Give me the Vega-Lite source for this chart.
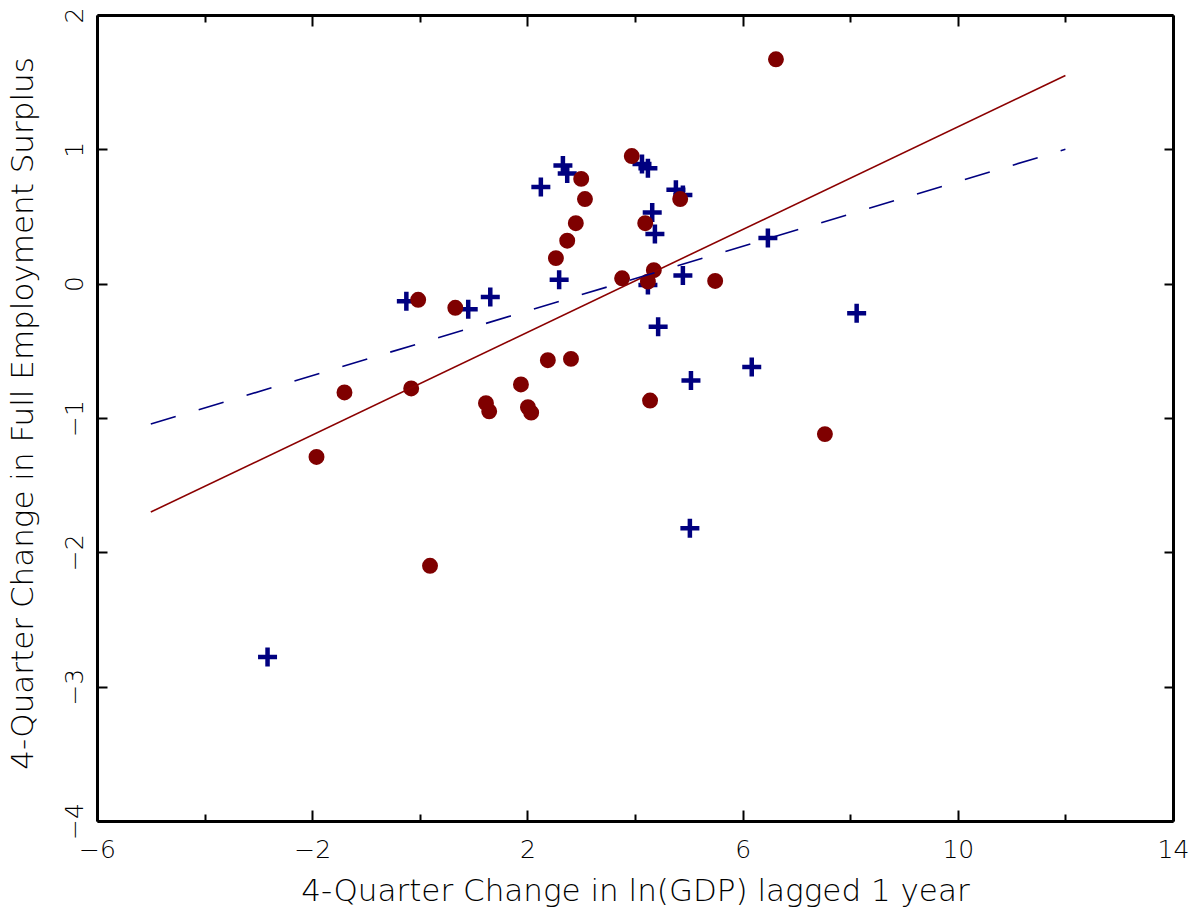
{
  "$schema": "https://vega.github.io/schema/vega-lite/v6.json",
  "width": 1076,
  "height": 806,
  "autosize": "none",
  "padding": {"left": 97, "top": 15, "right": 19, "bottom": 98},
  "background": "white",
  "config": {
    "view": {"stroke": null},
    "axis": {
      "grid": false,
      "domainColor": "black",
      "domainWidth": 3,
      "tickColor": "black",
      "tickWidth": 2,
      "labelFont": "DejaVu Sans",
      "labelFontSize": 25,
      "labelFontWeight": 200,
      "labelColor": "black",
      "titleFont": "DejaVu Sans",
      "titleFontSize": 31,
      "titleFontWeight": 200,
      "titleColor": "black",
      "labelFlush": false,
      "labelOverlap": false
    }
  },
  "datasets": {
    "circles": [
      {"x": 6.62, "y": 1.67}, {"x": 3.94, "y": 0.95}, {"x": 3.0, "y": 0.78}, {"x": 3.07, "y": 0.63},
      {"x": 4.84, "y": 0.63}, {"x": 2.9, "y": 0.45}, {"x": 4.19, "y": 0.45}, {"x": 2.74, "y": 0.32},
      {"x": 2.53, "y": 0.19}, {"x": 4.35, "y": 0.1}, {"x": 3.76, "y": 0.04}, {"x": 4.24, "y": 0.015},
      {"x": 5.49, "y": 0.02}, {"x": -0.03, "y": -0.12}, {"x": 0.66, "y": -0.18}, {"x": -1.4, "y": -0.81},
      {"x": -0.16, "y": -0.78}, {"x": 2.38, "y": -0.57}, {"x": 2.81, "y": -0.56}, {"x": 1.88, "y": -0.75},
      {"x": 1.23, "y": -0.89}, {"x": 1.29, "y": -0.95}, {"x": 2.01, "y": -0.92}, {"x": 2.07, "y": -0.96},
      {"x": 4.28, "y": -0.87}, {"x": 7.53, "y": -1.12}, {"x": -1.92, "y": -1.29}, {"x": 0.19, "y": -2.1}
    ],
    "pluses": [
      {"x": 2.66, "y": 0.88}, {"x": 2.74, "y": 0.82}, {"x": 2.25, "y": 0.72}, {"x": 4.13, "y": 0.89},
      {"x": 4.24, "y": 0.86}, {"x": 4.76, "y": 0.7}, {"x": 4.89, "y": 0.66}, {"x": 4.32, "y": 0.53},
      {"x": 4.37, "y": 0.37}, {"x": 6.47, "y": 0.34}, {"x": 2.59, "y": 0.03}, {"x": 4.89, "y": 0.06},
      {"x": 4.24, "y": -0.01}, {"x": 1.31, "y": -0.1}, {"x": -0.25, "y": -0.13}, {"x": 0.9, "y": -0.19},
      {"x": 4.43, "y": -0.32}, {"x": 8.12, "y": -0.22}, {"x": 6.17, "y": -0.62}, {"x": 5.04, "y": -0.72},
      {"x": 5.02, "y": -1.82}, {"x": -2.83, "y": -2.78}
    ],
    "solid": [{"x": -5, "y": -1.7}, {"x": 12, "y": 1.55}],
    "dashed": [{"x": -5, "y": -1.045}, {"x": 12, "y": 1.0}]
  },
  "layer": [
    {
      "data": {"name": "pluses"},
      "mark": {"type": "point", "shape": "M -1 0 L 1 0 M 0 -1 L 0 1", "filled": false, "stroke": "#000080", "strokeWidth": 4.5, "size": 361, "opacity": 1, "strokeCap": "butt"},
      "encoding": {
        "x": {"field": "x", "type": "quantitative", "scale": {"domain": [-6, 14], "nice": false, "zero": false},
          "axis": {"orient": "top", "labels": false, "title": null, "values": [-6, -4, -2, 0, 2, 4, 6, 8, 10, 12, 14],
            "tickSize": {"condition": {"test": "(datum.value + 6) % 4 == 0", "value": -11}, "value": -7}}},
        "y": {"field": "y", "type": "quantitative", "scale": {"domain": [-4, 2], "nice": false, "zero": false},
          "axis": {"orient": "right", "labels": false, "title": null, "values": [-4, -3, -2, -1, 0, 1, 2], "tickSize": -9}}
      }
    },
    {
      "data": {"name": "circles"},
      "mark": {"type": "point", "shape": "circle", "filled": true, "color": "#7f0000", "size": 254, "opacity": 1},
      "encoding": {
        "x": {"field": "x", "type": "quantitative",
          "axis": {"orient": "bottom", "values": [-6, -4, -2, 0, 2, 4, 6, 8, 10, 12, 14],
            "labelExpr": "(datum.value + 6) % 4 == 0 ? datum.label : ''",
            "tickSize": {"condition": {"test": "(datum.value + 6) % 4 == 0", "value": -11}, "value": -7},
            "labelPadding": 47, "labelBaseline": "alphabetic",
            "title": "4-Quarter Change in ln(GDP) lagged 1 year", "titleY": 79, "titleBaseline": "alphabetic"}},
        "y": {"field": "y", "type": "quantitative",
          "axis": {"orient": "left", "values": [-4, -3, -2, -1, 0, 1, 2], "tickSize": -10, "labelPadding": 25,
            "labelAngle": -90, "labelAlign": "center", "labelBaseline": "alphabetic",
            "title": "4-Quarter Change in Full Employment Surplus", "titleX": -65, "titleY": 398, "titleBaseline": "alphabetic"}}
      }
    },
    {
      "data": {"name": "solid"},
      "mark": {"type": "line", "color": "#8b0000", "strokeWidth": 1.6},
      "encoding": {
        "x": {"field": "x", "type": "quantitative", "axis": null},
        "y": {"field": "y", "type": "quantitative", "axis": null}
      }
    },
    {
      "data": {"name": "dashed"},
      "mark": {"type": "line", "color": "#000080", "strokeWidth": 1.6, "strokeDash": [26, 24]},
      "encoding": {
        "x": {"field": "x", "type": "quantitative", "axis": null},
        "y": {"field": "y", "type": "quantitative", "axis": null}
      }
    }
  ]
}
